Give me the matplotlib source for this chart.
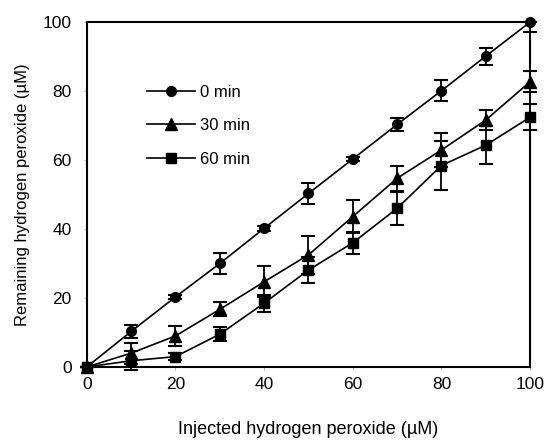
import numpy as np
import matplotlib
matplotlib.use("Agg")
import matplotlib.pyplot as plt

plt.rcParams['font.family'] = ['Liberation Sans', 'DejaVu Sans']

# injected H2O2 (uM)
injected = [0, 10, 20, 30, 40, 50, 60, 70, 80, 90, 100]

# remaining H2O2 (uM) after 0, 30, 60 min, with lower / upper error
rem_0 = [0, 10.3, 20.3, 30.0, 40.2, 50.3, 60.3, 70.3, 80.1, 90.1, 100.0]
err_0_lo = [0, 1.8, 0.7, 3.0, 0.8, 3.0, 0.5, 2.0, 3.0, 2.5, 3.0]
err_0_hi = [0, 1.8, 0.7, 3.0, 0.8, 3.0, 0.5, 2.0, 3.0, 2.5, 0.0]
rem_30 = [0, 4.0, 9.0, 16.7, 24.7, 32.5, 43.6, 54.7, 62.9, 71.6, 82.7]
err_30 = [0, 3.0, 3.0, 2.0, 4.5, 5.5, 4.7, 3.7, 5.0, 3.0, 3.0]
rem_60 = [0, 1.8, 3.0, 9.5, 18.5, 28.1, 36.0, 46.0, 58.4, 64.3, 72.4]
err_60 = [0, 2.7, 1.0, 2.0, 2.5, 3.8, 3.2, 4.8, 7.0, 5.5, 3.7]

labels = ['0 min', '30 min', '60 min']
markers = ['o', '^', 's']
msizes = [7, 8, 6.5]

fig = plt.figure(figsize=(5.46, 4.40), dpi=100)
ax = fig.add_axes([0.159, 0.166, 0.812, 0.784])

series = [(rem_0, [err_0_lo, err_0_hi]), (rem_30, err_30), (rem_60, err_60)]
for (y, e), m, ms, lab in zip(series, markers, msizes, labels):
    ax.errorbar(injected, y, yerr=e, color='black', marker=m, markersize=ms,
                linewidth=1.2, elinewidth=1.3, capsize=5, capthick=1.5,
                label=lab, clip_on=False, zorder=3)

ax.set_xlim(0, 100)
ax.set_ylim(0, 100)
ax.set_xticks(np.arange(0, 101, 20))
ax.set_yticks(np.arange(0, 101, 20))
ax.tick_params(axis='both', length=2, width=0.5, color='#999999', labelsize=12.5)
ax.tick_params(axis='x', pad=5)
ax.tick_params(axis='y', pad=9)
for s in ax.spines.values():
    s.set_linewidth(1.5)

ax.set_xlabel('Injected hydrogen peroxide (\u00b5M)', fontsize=13, labelpad=21)
ax.set_ylabel('Remaining hydrogen peroxide (\u00b5M)', fontsize=12, labelpad=9)

handles, labs = ax.get_legend_handles_labels()
handles = [h[0] for h in handles]
ax.legend(handles, labs, loc='upper left', bbox_to_anchor=(0.12, 0.838),
          frameon=False, fontsize=12, handlelength=2.9, handletextpad=0.3,
          labelspacing=1.12, borderaxespad=0)

fig.savefig('out.png', dpi=100)
